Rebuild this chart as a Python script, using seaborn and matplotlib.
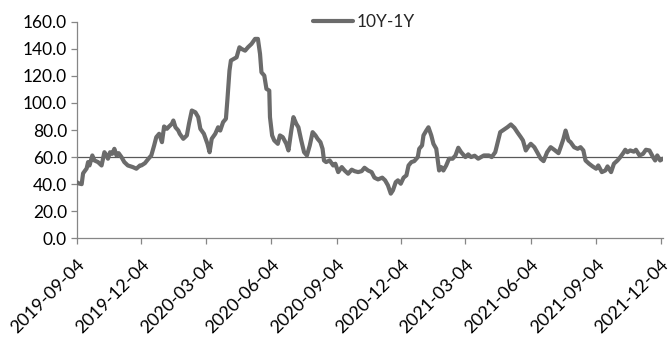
import matplotlib
matplotlib.use("Agg")
import matplotlib.pyplot as plt
import seaborn as sns
import pandas as pd

dates = [
    "2019-09-04", "2019-09-07", "2019-09-11", "2019-09-13", "2019-09-18", "2019-09-20", "2019-09-22",
    "2019-09-26", "2019-09-29", "2019-10-04", "2019-10-09", "2019-10-13", "2019-10-16", "2019-10-18",
    "2019-10-21", "2019-10-24", "2019-10-27", "2019-10-30", "2019-11-02", "2019-11-06", "2019-11-10",
    "2019-11-15", "2019-11-22", "2019-11-27", "2019-12-02", "2019-12-04", "2019-12-09", "2019-12-14",
    "2019-12-18", "2019-12-22", "2019-12-25", "2019-12-29", "2020-01-02", "2020-01-05", "2020-01-09",
    "2020-01-12", "2020-01-16", "2020-01-18", "2020-01-21", "2020-01-25", "2020-01-27", "2020-02-01",
    "2020-02-06", "2020-02-09", "2020-02-13", "2020-02-18", "2020-02-22", "2020-02-25", "2020-03-01",
    "2020-03-06", "2020-03-09", "2020-03-12", "2020-03-17", "2020-03-21", "2020-03-24", "2020-03-28",
    "2020-04-01", "2020-04-03", "2020-04-06", "2020-04-08", "2020-04-12", "2020-04-16", "2020-04-20",
    "2020-04-23", "2020-04-28", "2020-05-02", "2020-05-07", "2020-05-12", "2020-05-16", "2020-05-19",
    "2020-05-21", "2020-05-25", "2020-05-28", "2020-06-01", "2020-06-02", "2020-06-05", "2020-06-08",
    "2020-06-13", "2020-06-16", "2020-06-20", "2020-06-25", "2020-06-28", "2020-07-02", "2020-07-05",
    "2020-07-09", "2020-07-12", "2020-07-16", "2020-07-20", "2020-07-24", "2020-07-28", "2020-08-01",
    "2020-08-05", "2020-08-08", "2020-08-12", "2020-08-15", "2020-08-17", "2020-08-20", "2020-08-25",
    "2020-08-30", "2020-09-02", "2020-09-06", "2020-09-11", "2020-09-15", "2020-09-20", "2020-09-25",
    "2020-09-29", "2020-10-04", "2020-10-09", "2020-10-13", "2020-10-18", "2020-10-23", "2020-10-27",
    "2020-11-01", "2020-11-07", "2020-11-11", "2020-11-15", "2020-11-19", "2020-11-22", "2020-11-26",
    "2020-11-29", "2020-12-03", "2020-12-07", "2020-12-11", "2020-12-14", "2020-12-18", "2020-12-22",
    "2020-12-27", "2020-12-29", "2021-01-02", "2021-01-04", "2021-01-08", "2021-01-11", "2021-01-15",
    "2021-01-18", "2021-01-22", "2021-01-26", "2021-01-29", "2021-02-01", "2021-02-05", "2021-02-09",
    "2021-02-14", "2021-02-18", "2021-02-22", "2021-02-26", "2021-03-04", "2021-03-08", "2021-03-12",
    "2021-03-17", "2021-03-22", "2021-03-30", "2021-04-06", "2021-04-10", "2021-04-15", "2021-04-18",
    "2021-04-22", "2021-04-27", "2021-05-02", "2021-05-07", "2021-05-12", "2021-05-16", "2021-05-21",
    "2021-05-24", "2021-05-28", "2021-05-31", "2021-06-04", "2021-06-09", "2021-06-13", "2021-06-18",
    "2021-06-22", "2021-06-27", "2021-07-02", "2021-07-07", "2021-07-13", "2021-07-16", "2021-07-20",
    "2021-07-23", "2021-07-27", "2021-07-30", "2021-08-04", "2021-08-09", "2021-08-13", "2021-08-17",
    "2021-08-20", "2021-08-25", "2021-08-30", "2021-09-04", "2021-09-07", "2021-09-12", "2021-09-17",
    "2021-09-20", "2021-09-25", "2021-09-29", "2021-10-04", "2021-10-08", "2021-10-12", "2021-10-15",
    "2021-10-18", "2021-10-22", "2021-10-27", "2021-10-30", "2021-11-04", "2021-11-09", "2021-11-13",
    "2021-11-18", "2021-11-23", "2021-11-26", "2021-11-29", "2021-12-03", "2021-12-07",
]

spread = [
    41.5, 40.5, 40.0, 48.0, 51.6, 56.3, 53.8,
    61.2, 57.5, 56.3, 53.8, 63.6, 61.2, 58.8,
    63.6, 62.4, 66.1, 61.2, 62.9, 60.0, 56.3,
    53.8, 52.6, 51.4, 53.8, 53.8, 55.5, 58.8,
    61.2, 68.6, 74.7, 77.2, 71.0, 82.6, 80.9,
    82.6, 84.6, 87.0, 82.0, 79.6, 77.2, 73.5,
    76.0, 84.6, 94.4, 93.1, 89.5, 80.9, 77.2,
    69.8, 63.6, 73.5, 77.2, 82.0, 79.6, 85.8,
    88.3, 101.8, 123.9, 131.3, 132.5, 133.7, 141.1,
    139.9, 138.6, 141.1, 143.6, 147.3, 147.3, 136.2,
    122.6, 120.2, 110.4, 109.1, 89.5, 76.0, 72.3,
    69.8, 76.0, 74.7, 69.8, 64.9, 79.6, 89.5,
    84.6, 82.0, 72.3, 63.6, 61.2, 68.6, 78.4,
    76.0, 73.5, 71.0, 66.1, 57.5, 56.3, 57.5,
    53.8, 55.1, 48.9, 52.6, 50.1, 47.7, 50.7,
    49.6, 48.9, 49.6, 52.1, 50.1, 48.9, 44.8,
    43.5, 44.8, 42.8, 39.1, 33.0, 35.4, 41.5,
    42.8, 40.3, 44.8, 46.5, 53.8, 56.3, 57.0,
    60.0, 66.1, 68.6, 76.0, 79.6, 82.0, 76.0,
    69.8, 66.1, 50.1, 52.6, 50.1, 53.8, 58.8,
    58.8, 61.2, 66.9, 63.6, 60.0, 62.0, 60.0,
    61.0, 58.8, 61.2, 61.2, 60.0, 63.6, 69.8,
    78.4, 80.2, 82.0, 84.1, 81.6, 78.4, 74.7,
    72.3, 64.9, 67.3, 69.8, 67.3, 63.6, 58.8,
    57.0, 63.6, 67.3, 65.4, 62.9, 67.3, 73.5,
    79.6, 72.3, 71.0, 67.3, 66.1, 67.3, 64.9,
    57.5, 55.1, 53.1, 51.4, 53.8, 48.9, 50.1,
    53.1, 48.9, 55.1, 57.5, 60.0, 62.9, 65.4,
    63.6, 64.9, 64.0, 65.4, 61.2, 62.4, 65.4,
    64.9, 60.0, 57.5, 61.2, 57.5, 58.8,
]

tick_labels = ["2019-09-04", "2019-12-04", "2020-03-04", "2020-06-04", "2020-09-04",
               "2020-12-04", "2021-03-04", "2021-06-04", "2021-09-04", "2021-12-04"]
y_ticks = [0, 20, 40, 60, 80, 100, 120, 140, 160]
ref_level = 60
series_name = "10Y-1Y"

df = pd.DataFrame({"date": pd.to_datetime(dates), "value": spread})

sns.set_style("ticks")
plt.rcParams["font.family"] = ["Lato", "DejaVu Sans"]

fig = plt.figure(figsize=(6.71, 3.49), dpi=100)
ax = fig.add_axes([0.1143, 0.3172, 0.8737, 0.6206])

ax.axhline(ref_level, color="#595959", linewidth=0.9, zorder=1)
sns.lineplot(data=df, x="date", y="value", ax=ax, color="#6b6b6b", linewidth=3.0,
             label=series_name, zorder=3)

ax.set_xlim(pd.Timestamp("2019-09-04"), pd.Timestamp("2021-12-07"))
ax.set_ylim(0, 160)
ax.set_yticks(y_ticks)
ax.set_yticklabels([f"{v:.1f}" for v in y_ticks])
ax.set_xticks(pd.to_datetime(tick_labels))
ax.set_xticklabels(tick_labels, rotation=45, ha="right", rotation_mode="anchor")
ax.set_xlabel("")
ax.set_ylabel("")

for s in ["top", "right"]:
    ax.spines[s].set_visible(False)
for s in ["left", "bottom"]:
    ax.spines[s].set_color("#868686")
    ax.spines[s].set_linewidth(0.9)
ax.tick_params(axis="both", colors="#868686", length=4, width=0.9, labelcolor="black",
               labelsize=12.5)
ax.tick_params(axis="x", pad=9, labelsize=13)
ax.tick_params(axis="y", pad=3)

leg = ax.legend(loc="center", bbox_to_anchor=(0.49, 1.0), frameon=False, fontsize=12.5,
                handlelength=2.3, handletextpad=0.25, borderaxespad=0)
for line in leg.get_lines():
    line.set_linewidth(3.0)

fig.savefig("out.png", dpi=100)
